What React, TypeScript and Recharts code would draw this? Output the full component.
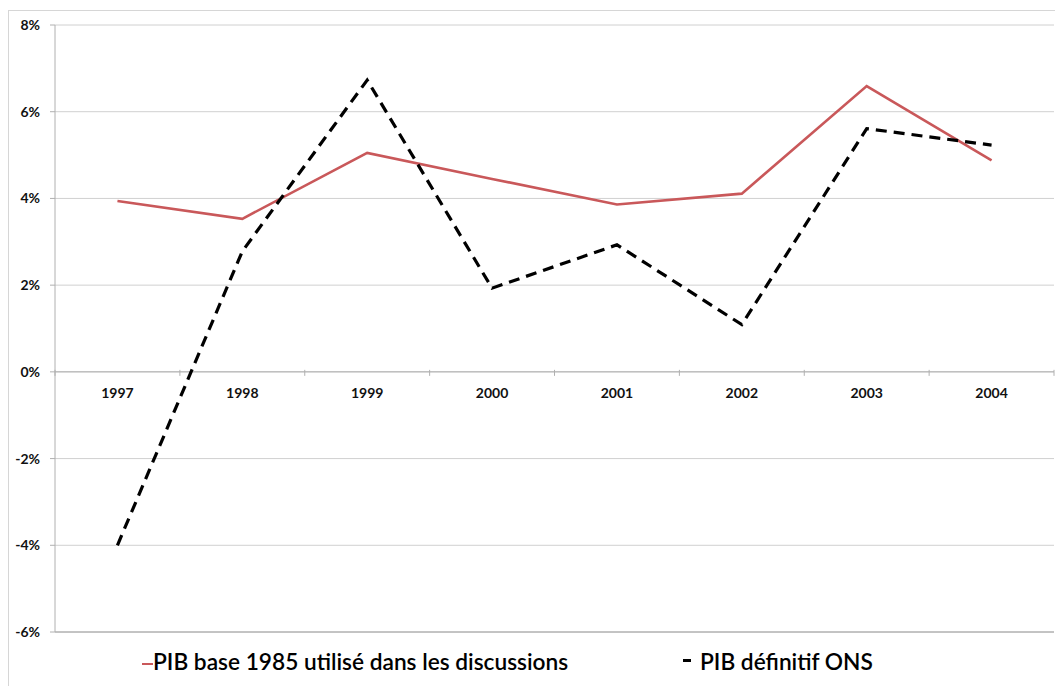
import { LineChart, Line, XAxis, YAxis, CartesianGrid, ReferenceLine } from 'recharts'

// #region Data
const years = ['1997', '1998', '1999', '2000', '2001', '2002', '2003', '2004']
const pibBase1985 = [3.94, 3.53, 5.05, 4.45, 3.86, 4.11, 6.59, 4.88]
const pibOns = [-4.0, 2.78, 6.73, 1.93, 2.93, 1.09, 5.61, 5.23]
const yTicks = [-6, -4, -2, 0, 2, 4, 6, 8]

const data = years.map((year, i) => ({
  year,
  base: pibBase1985[i],
  ons: pibOns[i],
}))

// layout of the plot area (axis crosses at 0)
const W = 1055
const H = 640
const M = { top: 25, right: 1, bottom: 0, left: 0 }
const X_AXIS_H = 8
const Y_AXIS_W = 55
const PLOT_W = W - M.left - M.right - Y_AXIS_W
const PLOT_H = H - M.top - M.bottom - X_AXIS_H
const ZERO_Y = M.top + (PLOT_H * 8) / 14
const BAND = PLOT_W / years.length

const font = 'Lato, "Open Sans", sans-serif'

// Year labels sit on the 0% line, Excel-style
const YearTick = (props: any) => {
  const { x, index, payload } = props
  const left = x - BAND / 2
  return (
    <g>
      <line x1={left} x2={left} y1={ZERO_Y - 2} y2={ZERO_Y + 4} stroke="#b0b0b0" />
      {index === years.length - 1 && (
        <line x1={x + BAND / 2} x2={x + BAND / 2} y1={ZERO_Y - 2} y2={ZERO_Y + 4} stroke="#b0b0b0" />
      )}
      <text
        x={x}
        y={ZERO_Y + 21}
        textAnchor="middle"
        dominantBaseline="central"
        fontFamily={font}
        fontWeight={700}
        fontSize={14}
        fill="#111"
      >
        {payload.value}
      </text>
    </g>
  )
}

export default function App() {
  return (
    <div
      style={{
        position: 'absolute',
        left: 0,
        top: 0,
        width: 1055,
        height: 686,
        overflow: 'hidden',
        background: '#fff',
      }}
    >
      {/* outer frame */}
      <div
        style={{
          position: 'absolute',
          left: 8,
          top: 10,
          width: 1100,
          height: 700,
          border: '1px solid #d6d6d6',
        }}
      />
      <div style={{ position: 'absolute', left: 0, top: 0 }}>
        <LineChart width={W} height={H} data={data} margin={M}>
          <CartesianGrid vertical={false} stroke="#d0d0d0" />
          <XAxis
            dataKey="year"
            scale="band"
            height={X_AXIS_H}
            axisLine={false}
            tickLine={false}
            tick={YearTick}
            interval={0}
          />
          <YAxis
            width={Y_AXIS_W}
            domain={[-6, 8]}
            ticks={yTicks}
            tickFormatter={(v) => `${v}%`}
            stroke="#b0b0b0"
            tickSize={5}
            tickMargin={10}
            tick={{ fontFamily: font, fontWeight: 700, fontSize: 14, fill: '#111' }}
          />
          <ReferenceLine y={0} stroke="#b0b0b0" />
          <ReferenceLine y={-6} stroke="#a0a0a0" />
          <Line
            dataKey="base"
            stroke="#c9585a"
            strokeWidth={2.6}
            dot={false}
            isAnimationActive={false}
          />
          <Line
            dataKey="ons"
            stroke="#000"
            strokeWidth={3.2}
            strokeDasharray="11 7"
            dot={false}
            isAnimationActive={false}
          />
        </LineChart>
      </div>

      {/* legend */}
      <div
        style={{
          position: 'absolute',
          left: 0,
          top: 646,
          width: W,
          height: 36,
          fontFamily: font,
          fontSize: 22.7,
          fontWeight: 600,
          color: '#000',
        }}
      >
        <div style={{ position: 'absolute', left: 142, top: 17, width: 11, height: 2, background: '#c9585a' }} />
        <div style={{ position: 'absolute', left: 153, top: 2, whiteSpace: 'nowrap' }}>
          PIB base 1985 utilisé dans les discussions
        </div>
        <div style={{ position: 'absolute', left: 683, top: 13, width: 8, height: 3, background: '#000' }} />
        <div style={{ position: 'absolute', left: 700, top: 2, whiteSpace: 'nowrap' }}>PIB définitif ONS</div>
      </div>
    </div>
  )
}
